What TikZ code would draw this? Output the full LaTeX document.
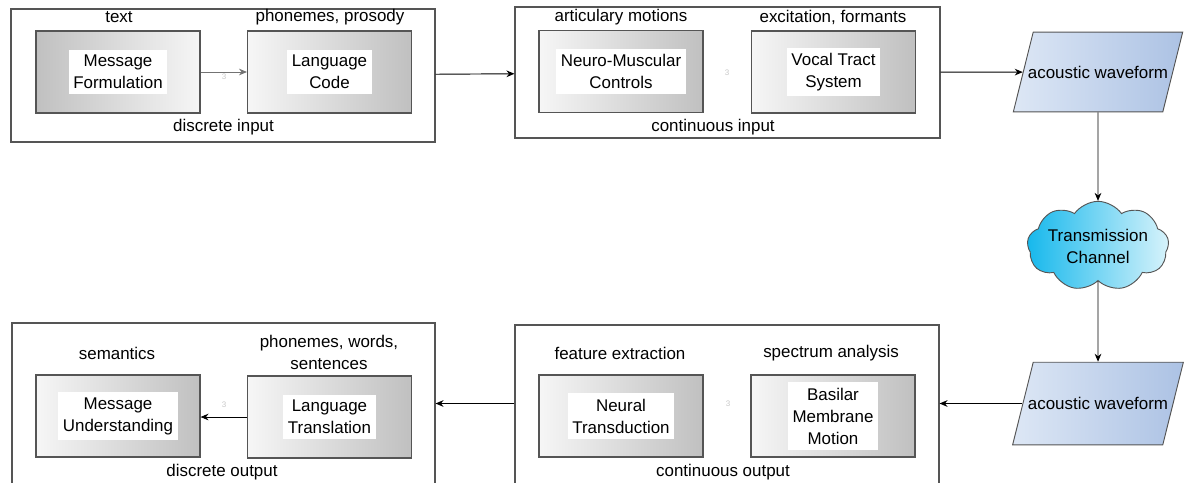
\documentclass[tikz,border=0pt]{standalone}
\usepackage{fontspec}
\setmainfont{Liberation Sans}
\usepackage{tikz}
\usetikzlibrary{arrows.meta,positioning,shapes.geometric,shapes.symbols,calc}

\definecolor{frame}{RGB}{85,85,85}
\definecolor{shadelight}{RGB}{246,246,246}
\definecolor{shadedark}{RGB}{192,192,192}
\definecolor{waveleft}{RGB}{221,231,245}
\definecolor{waveright}{RGB}{172,194,228}
\definecolor{cloudleft}{RGB}{22,184,236}
\definecolor{cloudright}{RGB}{216,243,251}
\definecolor{faintgray}{RGB}{200,200,200}

\tikzset{
  stage/.style={draw=frame, line width=0.8pt, inner sep=0pt},
  block/.style={draw=frame, line width=0.8pt, minimum width=123pt, minimum height=61.5pt, left color=shadelight, right color=shadedark},
  blockrev/.style={block, left color=shadedark, right color=shadelight},
  plate/.style={fill=white, inner xsep=3.5pt, inner ysep=4pt, align=center},
  note/.style={align=center, inner sep=0pt},
  faint/.style={text=faintgray, font=\fontsize{6}{7}\selectfont},
  flow/.style={-{Stealth[length=6pt,width=5pt]}, line width=0.7pt},
  wave/.style={trapezium, trapezium left angle=76, trapezium right angle=104, draw=frame, line width=0.7pt, left color=waveleft, right color=waveright, inner xsep=-4pt, inner ysep=25.3pt},
  channel/.style={cloud, cloud puffs=9, cloud puff arc=110, cloud ignores aspect, draw=frame, line width=0.7pt, left color=cloudleft, right color=cloudright, minimum width=86pt, minimum height=67pt, inner sep=0pt, align=center}
}

\begin{document}
\begin{tikzpicture}[x=0.75pt, y=-0.75pt, font=\fontsize{12.7}{16.5}\selectfont]
		\path [use as bounding box, clip] (0,0) rectangle (1185,482);
		% speaker side
		\node [stage, minimum width=318pt, minimum height=99.75pt](din) at (223,75.5) {};
		\node [stage, minimum width=318.75pt, minimum height=98.25pt](cin) at (727.5,72.5) {};
		\node [blockrev](mf) at (118,72) {};
		\node [plate](mft) at (mf) {Message\\Formulation};
		\node [block](lc) at (329.5,72) {};
		\node [plate](lct) at (lc) {Language\\Code};
		\node [block](nm) at (621,71.5) {};
		\node [plate](nmt) at (nm) {Neuro-Muscular\\Controls};
		\node [block](vt) at (833.5,72) {};
		\node [plate](vtt) at (vt) {Vocal Tract\\System};
		\node [note](txt) at (119,17) {text};
		\node [note](pros) at (330,17) {phonemes, prosody};
		\node [note](artic) at (621,17) {articulary motions};
		\node [note](excit) at (833,17) {excitation, formants};
		\node [note](dinl) at (223.5,127) {discrete input};
		\node [note](cinl) at (713,127) {continuous input};
		\node [faint](n1) at (224,77) {3};
		\node [faint](n2) at (727,73) {3};
		% channel
		\node [wave](aw1) at (1098,72) {acoustic waveform};
		\node [channel](ch) at (1098,246) {Transmission\\Channel};
		\node [wave, inner ysep=26.3pt](aw2) at (1098,403.5) {acoustic waveform};
		% listener side
		\node [stage, minimum width=317.25pt, minimum height=126.75pt](dout) at (223.5,407.5) {};
		\node [stage, minimum width=318pt, minimum height=125.25pt](cout) at (727,408.5) {};
		\node [block](mu) at (118,416) {};
		\node [plate](mut) at (mu) {Message\\Understanding};
		\node [block](lt) at (329.5,417) {};
		\node [plate](ltt) at (lt) {Language\\Translation};
		\node [block](nt) at (621,416) {};
		\node [plate](ntt) at (nt) {Neural\\Transduction};
		\node [block](bm) at (833,416) {};
		\node [plate](bmt) at (bm) {Basilar\\Membrane\\Motion};
		\node [note](sem) at (117,353) {semantics};
		\node [note](words) at (329,352) {phonemes, words,\\sentences};
		\node [note](feat) at (620,353) {feature extraction};
		\node [note](spec) at (831,353) {spectrum analysis};
		\node [note](doutl) at (222,472) {discrete output};
		\node [note](coutl) at (723,472) {continuous output};
		\node [faint](n3) at (224,405) {3};
		\node [faint](n4) at (728,404) {3};
		% connectors
		\draw [flow, draw=black!55](mf) -- (lc);
		\draw [flow](din) -- (cin);
		\draw [flow](cin) -- (aw1);
		\draw [flow](aw1) -- (ch);
		\draw [flow](ch) -- (aw2);
		\draw [flow](aw2.west) -- (cout.east |- aw2.west);
		\draw [flow](cout.west |- aw2.west) -- (dout.east |- aw2.west);
		\draw [flow](lt.west) -- (mu.east |- lt.west);
\end{tikzpicture}
\end{document}
